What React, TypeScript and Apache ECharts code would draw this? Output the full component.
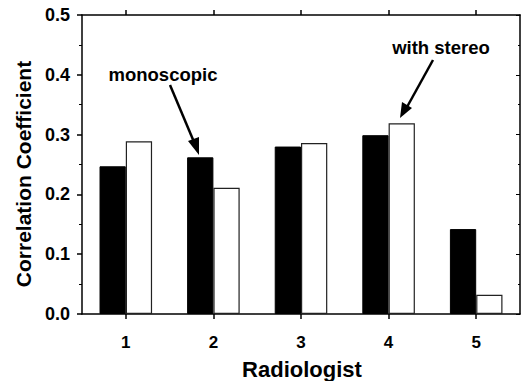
import React, { useEffect, useRef } from "react";
import * as echarts from "echarts";

const categories = ["1", "2", "3", "4", "5"];
const monoscopic = [0.247, 0.262, 0.28, 0.299, 0.142];
const withStereo = [0.289, 0.211, 0.286, 0.319, 0.032];
const yTicks = { min: 0, max: 0.5, interval: 0.1 };

const FONT = '"Liberation Sans", Arial, Helvetica, sans-serif';

export default function App() {
  const ref = useRef<HTMLDivElement>(null);
  useEffect(() => {
    if (!ref.current) return;
    const chart = echarts.init(ref.current, null, { renderer: "svg" });
    const axisLine = { show: true, onZero: false, lineStyle: { color: "#000", width: 1.5 } };
    const option: any = {
      animation: false,
      backgroundColor: "#fff",
      textStyle: { fontFamily: FONT },
      grid: { left: 82, top: 15, right: 1, bottom: 67, containLabel: false },
      xAxis: [
        {
          type: "category",
          data: categories,
          position: "bottom",
          axisLine,
          axisTick: { show: true, alignWithLabel: true, length: 5, lineStyle: { color: "#000", width: 1.5 } },
          axisLabel: { color: "#000", fontSize: 17, fontWeight: "bold", fontFamily: FONT, margin: 20 },
        },
        {
          type: "category",
          data: categories,
          position: "top",
          axisLine,
          axisTick: { show: true, alignWithLabel: true, length: 5, lineStyle: { color: "#000", width: 1.5 } },
          axisLabel: { show: false },
        },
      ],
      yAxis: [
        {
          type: "value",
          min: yTicks.min,
          max: yTicks.max,
          interval: yTicks.interval,
          position: "left",
          axisLine,
          axisTick: { show: true, length: 5, lineStyle: { color: "#000", width: 1.5 } },
          minorTick: { show: true, splitNumber: 2, length: 3, lineStyle: { color: "#000", width: 1 } },
          splitLine: { show: false },
          axisLabel: {
            color: "#000",
            fontSize: 18,
            fontWeight: "bold",
            fontFamily: FONT,
            margin: 12,
            formatter: (v: number) => v.toFixed(1),
          },
        },
        {
          type: "value",
          min: yTicks.min,
          max: yTicks.max,
          interval: yTicks.interval,
          position: "right",
          axisLine,
          axisTick: { show: true, inside: true, length: 4, lineStyle: { color: "#000", width: 1 } },
          minorTick: { show: true, splitNumber: 2, length: 2, lineStyle: { color: "#000", width: 1 } },
          splitLine: { show: false },
          axisLabel: { show: false },
        },
      ],
      series: [
        {
          name: "monoscopic",
          type: "bar",
          data: monoscopic,
          barGap: "0%",
          barCategoryGap: "40%",
          itemStyle: { color: "#000", borderColor: "#000", borderWidth: 1 },
        },
        {
          name: "with stereo",
          type: "bar",
          data: withStereo,
          barGap: "0%",
          barCategoryGap: "40%",
          itemStyle: { color: "#fff", borderColor: "#222", borderWidth: 1.2 },
        },
      ],
      graphic: [
        {
          type: "text",
          x: 23,
          y: 174,
          rotation: Math.PI / 2,
          style: {
            text: "Correlation Coefficient",
            fill: "#000",
            font: `bold 21px ${FONT}`,
            align: "center",
            verticalAlign: "middle",
          },
        },
        {
          type: "text",
          x: 302,
          y: 369,
          style: {
            text: "Radiologist",
            fill: "#000",
            font: `bold 22px ${FONT}`,
            align: "center",
            verticalAlign: "middle",
          },
        },
        {
          type: "text",
          x: 163,
          y: 74,
          style: {
            text: "monoscopic",
            fill: "#000",
            font: `bold 18.5px ${FONT}`,
            align: "center",
            verticalAlign: "middle",
          },
        },
        {
          type: "line",
          shape: { x1: 170, y1: 85, x2: 194, y2: 142 },
          style: { stroke: "#000", lineWidth: 2.5 },
        },
        {
          type: "polygon",
          shape: { points: [[199, 155], [188, 141], [199, 137]] },
          style: { fill: "#000" },
        },
        {
          type: "text",
          x: 441,
          y: 47,
          style: {
            text: "with stereo",
            fill: "#000",
            font: `bold 18.5px ${FONT}`,
            align: "center",
            verticalAlign: "middle",
          },
        },
        {
          type: "line",
          shape: { x1: 433, y1: 60, x2: 407, y2: 107 },
          style: { stroke: "#000", lineWidth: 2.5 },
        },
        {
          type: "polygon",
          shape: { points: [[400, 118], [402, 102], [412, 108]] },
          style: { fill: "#000" },
        },
      ],
    };
    chart.setOption(option);
    return () => chart.dispose();
  }, []);
  return (
    <div
      ref={ref}
      style={{ position: "fixed", left: 0, top: 0, width: 521, height: 381, background: "#fff" }}
    />
  );
}
